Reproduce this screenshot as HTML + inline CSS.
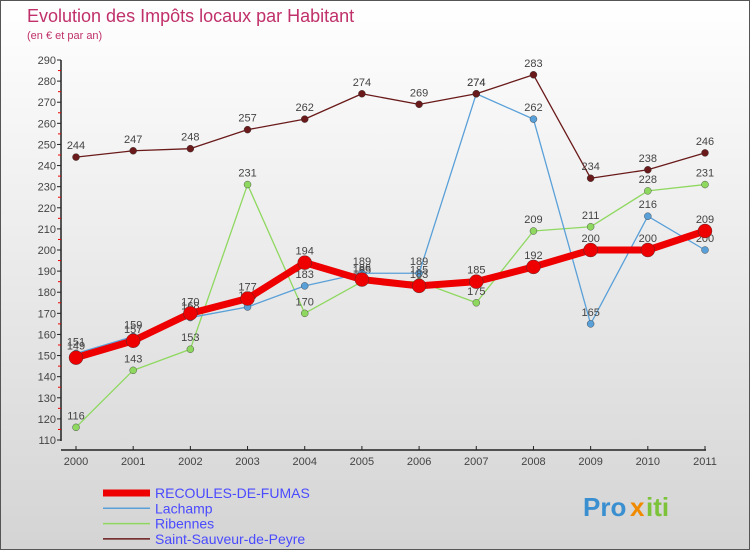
<!DOCTYPE html>
<html><head><meta charset="utf-8"><style>
body{margin:0}
#c{width:750px;height:550px;position:relative;font-family:"Liberation Sans",sans-serif;background:linear-gradient(#fff,#d4d4d4);box-sizing:border-box;border:1px solid #555;overflow:hidden}
</style></head><body>
<div id="c">
<svg width="750" height="550" id="s" style="position:absolute;left:-1px;top:-1px">
<text x="27" y="22" font-size="18" fill="#c0306a">Evolution des Impôts locaux par Habitant</text>
<text x="27" y="39" font-size="11" fill="#c0306a">(en € et par an)</text>
<g id="axes"></g><g id="series"></g><g id="legend"></g>
<g font-size="26" font-weight="bold">
<text x="583" y="516" fill="#3a8fd0">Pro</text><text x="630" y="516" fill="#f08a00">x</text><text x="646" y="516" fill="#7cc33a">iti</text></g>
</svg></div>
<script>
const years=["2000","2001","2002","2003","2004","2005","2006","2007","2008","2009","2010","2011"];
const yTicks=[110,120,130,140,150,160,170,180,190,200,210,220,230,240,250,260,270,280,290];
const recoules=[149,157,170,177,194,186,183,185,192,200,200,209];
const lachamp=[151,159,168,173,183,189,189,274,262,165,216,200];
const ribennes=[116,143,153,231,170,185,185,175,209,211,228,231];
const stsauveur=[244,247,248,257,262,274,269,274,283,234,238,246];
const seriesNames=["RECOULES-DE-FUMAS","Lachamp","Ribennes","Saint-Sauveur-de-Peyre"];
const NS="http://www.w3.org/2000/svg";
const X=i=>76+i*(705-76)/11, Y=v=>440-(v-110)*(380/180);
function mk(t,a,p){const e=document.createElementNS(NS,t);for(const k in a)e.setAttribute(k,a[k]);p.appendChild(e);return e;}
const ax=document.getElementById('axes');
let l=mk('line',{x1:61,y1:60,x2:61,y2:441,stroke:'#222','stroke-width':1.5},ax);


l=mk('line',{x1:61,y1:450,x2:706,y2:450,stroke:'#222','stroke-width':1.5},ax);


yTicks.forEach((v,i)=>{
 mk('line',{x1:57,y1:Y(v),x2:61,y2:Y(v),stroke:'#222'},ax);
 if(i<yTicks.length-1) mk('line',{x1:58,y1:Y(v+5),x2:61,y2:Y(v+5),stroke:'#e00'},ax);
 const t=mk('text',{x:56,y:Y(v)+4,'text-anchor':'end','font-size':11,fill:'#444'},ax);t.textContent=v;
 
 
});
years.forEach((y,i)=>{
 mk('line',{x1:X(i),y1:446,x2:X(i),y2:450,stroke:'#222'},ax);
 const t=mk('text',{x:X(i),y:465,'text-anchor':'middle','font-size':11,fill:'#444'},ax);t.textContent=y;
 
 
});
const sg=document.getElementById('series');
function draw(data,name,col,w,r,lab){
 const g=mk('g',{},sg);
 
 
 mk('polyline',{points:data.map((v,i)=>X(i)+','+Y(v)).join(' '),fill:'none',stroke:col,'stroke-width':w,'stroke-linejoin':'round'},g);
 data.forEach((v,i)=>{
  const c=mk('circle',{cx:X(i),cy:Y(v),r:r,fill:col,stroke:'#333','stroke-width':0.4},g);
  
  
  const t=mk('text',{x:X(i),y:Y(v)-8,'text-anchor':'middle','font-size':11,fill:'#444'},g);t.textContent=v;
  
  
 });
}
draw(ribennes,'ribennes-series','#8fd860',1.3,3.5,'#7ccf3a');
draw(lachamp,'lachamp-series','#5aa0d8',1.3,3.5);
draw(stsauveur,'saint-sauveur-series','#6a1a1a',1.3,3.5);
draw(recoules,'recoules-series','#ee0000',7,7);
const lg=document.getElementById('legend');
const lc=['#ee0000','#5aa0d8','#8fd860','#6a1a1a'],lw=[7,1.5,1.5,1.5];
seriesNames.forEach((n,i)=>{
 const yy=493+i*15.3;
 const g=mk('g',{},lg);
 
 
 mk('line',{x1:103,y1:yy,x2:150,y2:yy,stroke:lc[i],'stroke-width':lw[i]},g);
 const t=mk('text',{x:155,y:yy+5,'font-size':14,fill:'#4a4aff'},g);t.textContent=n;
});
</script>
</body></html>
